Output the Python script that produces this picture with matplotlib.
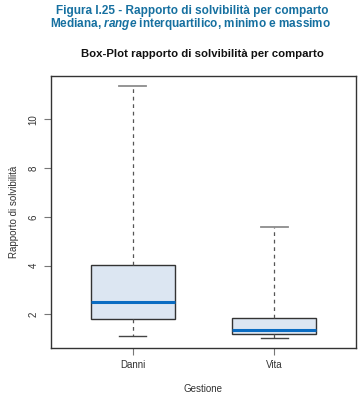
import matplotlib
matplotlib.use("Agg")
import matplotlib.pyplot as plt

plt.rcParams['font.family'] = ['Liberation Sans', 'DejaVu Sans']
plt.rcParams['mathtext.fontset'] = 'custom'
plt.rcParams['mathtext.it'] = 'Liberation Sans:italic:bold'
plt.rcParams['mathtext.rm'] = 'Liberation Sans:bold'

categories = ["Danni", "Vita"]
whisker_low = [1.10, 1.03]
q1 = [1.80, 1.18]
median = [2.50, 1.36]
q3 = [4.04, 1.84]
whisker_high = [11.36, 5.58]
yticks = [2, 4, 6, 8, 10]

fig = plt.figure(figsize=(3.61, 3.97), dpi=100)
W, H = 361, 397
ax = fig.add_axes([51 / W, 1 - 348 / H, (356 - 51) / W, (348 - 76) / H])

stats = []
for i, c in enumerate(categories):
    stats.append(dict(label=c, whislo=whisker_low[i], q1=q1[i], med=median[i],
                      q3=q3[i], whishi=whisker_high[i], fliers=[]))

res = ax.bxp(stats, positions=[1, 2], widths=0.6, patch_artist=True, showfliers=False,
             boxprops=dict(facecolor="#dce6f2", edgecolor="#333333", linewidth=1.0),
             medianprops=dict(color="#0a6cc2", linewidth=2.2),
             whiskerprops=dict(color="#555555", linestyle=(0, (3, 3)), linewidth=0.9),
             capprops=dict(color="#444444", linewidth=1.0), capwidths=0.19)
for j, cap in enumerate(res["caps"]):
    if j % 2 == 1:
        cap.set_color("#8c8c8c")
        cap.set_linewidth(1.3)

ax.set_xlim(0.42, 2.58)
ax.set_ylim(0.62, 11.77)
ax.set_yticks(yticks)
ax.set_yticklabels([str(t) for t in yticks], rotation=90, va="center", fontsize=7, color="#333333")
ax.set_xticks([1, 2])
ax.set_xticklabels(categories, fontsize=7, color="#333333")
ax.tick_params(axis="both", length=5, width=0.8, color="#777777", pad=4)
for s in ax.spines.values():
    s.set_color("#333333")
    s.set_linewidth(1.0)

ax.set_ylabel("Rapporto di solvibilità", fontsize=7, color="#333333", labelpad=7)
ax.set_xlabel("Gestione", fontsize=7, color="#333333", labelpad=10)

fig.text(192 / W, 1 - 11 / H, "Figura I.25 - Rapporto di solvibilità per comparto",
         ha="center", va="center", fontsize=8.5, fontweight="bold", color="#1670a0")
fig.text(191 / W, 1 - 24 / H, "Mediana, $\\mathit{range}$ interquartilico, minimo e massimo",
         ha="center", va="center", fontsize=8.5, fontweight="bold", color="#1670a0")
fig.text(202 / W, 1 - 54 / H, "Box-Plot rapporto di solvibilità per comparto",
         ha="center", va="center", fontsize=8.2, fontweight="bold", color="#111111")

fig.savefig("out.png", dpi=100)
